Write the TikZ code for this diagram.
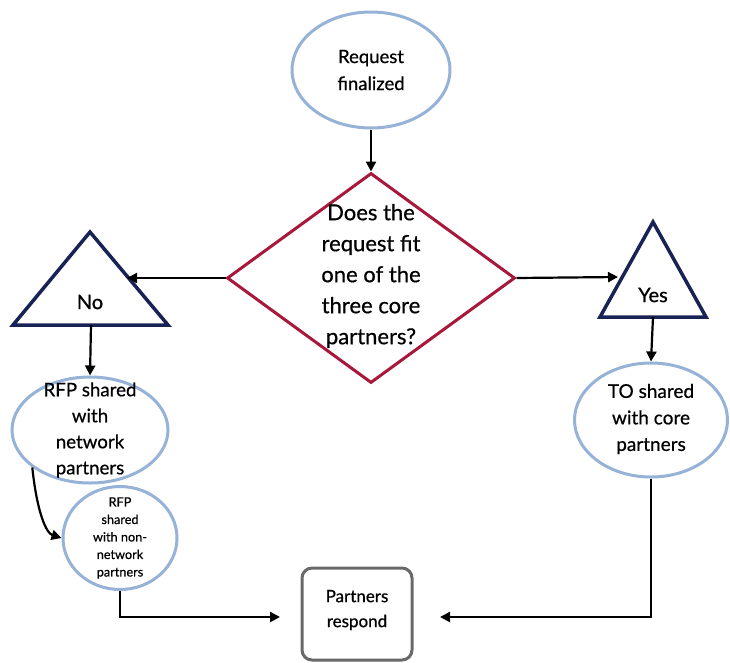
\documentclass[tikz,border=0pt]{standalone}
\usepackage{fontspec}
\setmainfont{Lato}[FakeBold=0.6]
\usetikzlibrary{shapes.geometric,arrows.meta}
\definecolor{ellblue}{RGB}{150,178,215}
\definecolor{dmred}{RGB}{168,24,58}
\definecolor{trinavy}{RGB}{24,34,84}
\definecolor{boxgrey}{RGB}{105,105,105}
\begin{document}
\begin{tikzpicture}[x=1pt,y=-1pt,
  blueell/.style={ellipse,draw=ellblue,line width=3,fill=white,inner sep=0},
  txt/.style={align=center,inner sep=0,text=black},
  tri/.style={draw=trinavy,line width=3.5,line join=miter,fill=white},
  arr/.style={draw=black,line width=2.2,-{Triangle[length=10pt,width=10pt]}},
  plainline/.style={draw=black,line width=2.2}]
\useasboundingbox (0,0) rectangle (730,662);

% start ellipse
\node[blueell,minimum width=158,minimum height=116] (req) at (371,70) {};
\node[txt,font=\fontsize{18.5}{27}\selectfont] (reqt) at (req.center) {Request\\finalized};

% diamond
\node[diamond,draw=dmred,line width=3,fill=white,inner sep=0,minimum width=288,minimum height=210] (dec) at (371,278) {};
\node[txt,font=\fontsize{22}{31}\selectfont] (dect) at ([yshift=2]dec.center) {Does the\\request fit\\one of the\\three core\\partners?};

% No triangle
\coordinate (noA) at (90,232);
\coordinate (noL) at (13,325);
\coordinate (noR) at (168,325);
\coordinate (noIn) at (127,278);
\coordinate (noOut) at (91,325);
\draw[tri] (noA) -- (noL) -- (noR) -- cycle;
\node[txt,font=\fontsize{20}{24}\selectfont] (not) at (90,302) {No};

% Yes triangle
\coordinate (yesA) at (653,222);
\coordinate (yesL) at (600,317);
\coordinate (yesR) at (706,317);
\coordinate (yesIn) at (618,277);
\coordinate (yesOut) at (653,317);
\draw[tri] (yesA) -- (yesL) -- (yesR) -- cycle;
\node[txt,font=\fontsize{20}{24}\selectfont] (yest) at (653,295) {Yes};

% RFP network ellipse
\node[blueell,minimum width=156,minimum height=106] (rfp) at (90,430) {};
\node[txt,font=\fontsize{18.7}{26}\selectfont] (rfpt) at (rfp.center) {RFP shared\\with\\network\\partners};

% RFP non-network ellipse
\node[blueell,minimum width=114,minimum height=103] (rfp2) at (120,538) {};
\node[txt,font=\fontsize{12.7}{17.5}\selectfont] (rfp2t) at (rfp2.center) {RFP\\shared\\with non-\\network\\partners};

% TO shared ellipse
\node[blueell,minimum width=153,minimum height=114] (to) at (651,420) {};
\node[txt,font=\fontsize{19}{26.5}\selectfont] (tot) at ([yshift=1]to.center) {TO shared\\with core\\partners};

% Partners respond box
\node[draw=boxgrey,line width=3,rounded corners=10,fill=white,minimum width=110,minimum height=92,inner sep=0] (resp) at (357,614) {};
\node[txt,font=\fontsize{17}{25}\selectfont] (respt) at ([yshift=4]resp.center) {Partners\\respond};

\coordinate (leftTip) at (280,617);
\coordinate (rightTip) at (440,617);

% connectors
\draw[arr] (req.south) -- (dec.north);
\draw[arr] (dec.west) -- (noIn);
\draw[arr] (dec.east) -- (yesIn);
\draw[arr] (noOut) -- (rfp.north);
\draw[arr] (yesOut) -- (to.north);
\draw[arr] (rfp.213) .. controls (37,512) and (46,533) .. (rfp2.west);
\draw[arr] (rfp2.south) |- (leftTip);
\draw[arr] (to.south) |- (rightTip);
\end{tikzpicture}
\end{document}
